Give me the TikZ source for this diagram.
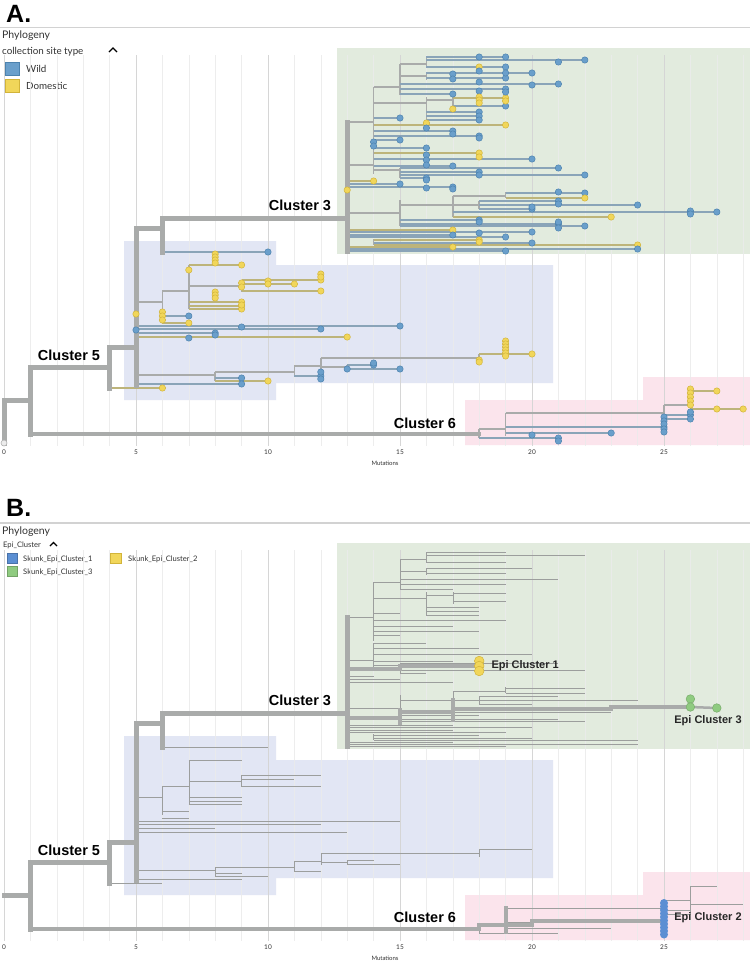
\documentclass[tikz,border=0pt]{standalone}
\usepackage{fontspec}
\setmainfont{Lato}
\newfontfamily\labfont{Liberation Sans}

\definecolor{brgrey}{HTML}{A9ABAA}
\definecolor{thingrey}{HTML}{9C9E9D}
\definecolor{lineb}{HTML}{8AA4B8}
\definecolor{liney}{HTML}{BDB47A}
\definecolor{dotb}{HTML}{6A9FCB}
\definecolor{edgeb}{HTML}{4C82AE}
\definecolor{doty}{HTML}{F1D65A}
\definecolor{edgey}{HTML}{D2B43A}
\definecolor{epiblue}{HTML}{5B8FD3}
\definecolor{epigreen}{HTML}{8FCB80}
\definecolor{greenbox}{HTML}{E2EBDE}
\definecolor{bluebox}{HTML}{E2E6F4}
\definecolor{pinkbox}{HTML}{FBE4EC}
\definecolor{gridminor}{HTML}{EBEBEB}
\definecolor{gridmajor}{HTML}{D2D2D2}
\definecolor{uitext}{HTML}{333333}

% tree drawn in mutations (x) and pixel rows (y)
\def\vertsA{15/64/95, 16/57/67, 16/73/80, 14/87/146, 16/97/120, 17/97/109,
  14/148/174, 15/168/178, 15/200/226, 17/196/217, 19/192/198, 18/201/209,
  14/239/245, 6/291/320, 7/265/309, 9/280/292, 8/372/381, 11/366/376,
  12/358/370, 18/354/362, 13/365/369, 18/429/438, 19/413/436, 25/405/432,
  26/391/420}
\def\innerA{13/14/122, 14/15/87, 15/16/64, 15/16/76, 14/16/103, 16/17/100,
  13/14/165, 14/15/170, 13/15/213, 15/17/205, 17/19/196, 17/18/205,
  5/6/302, 6/7/291, 7/9/286, 5/8/375, 8/11/372, 11/12/366, 12/18/358,
  12/13/367, 18/19/429, 19/25/413, 25/26/405}
\def\tipsA{16/19/57/b, 16/22/60/b, 16/19/67/b, 16/20/73/b, 16/19/78/b,
  15/21/84/b, 15/19/89/b, 15/17/94/b, 17/19/98/y, 17/19/106/b, 16/18/112/b,
  16/18/116/b, 16/18/120/b, 14/15/118/b, 14/19/125/y, 14/17/131/b,
  14/18/136/b, 14/15/140/b, 14/16/148/b, 14/18/153/y, 14/20/159/b,
  14/17/166/b, 15/21/168/b, 15/18/172/b, 15/22/175/b, 15/16/178/b,
  13/14/181/y, 13/15/184/b, 13/17/187/b, 19/22/193/b, 19/22/198/y,
  18/21/201/b, 18/24/205/b, 18/20/209/b, 17/27/212/b, 17/23/217/y,
  15/18/220/b, 15/21/224/b, 15/22/226/b, 13/17/230/y, 13/20/232/b,
  13/17/235/b, 13/19/237/b, 14/18/240/y, 14/20/243/b, 14/24/245/y,
  13/17/247/y, 13/24/249/b, 13/19/251/b,
  6/10/252/b, 7/9/265/y, 9/12/280/y, 9/11/284/y, 9/12/291/y, 7/9/302/y,
  7/9/306/y, 7/9/309/y, 6/7/316/b, 6/7/323/y, 5/15/326/b, 5/12/329/b,
  5/8/333/b, 5/13/337/y, 18/20/354/y, 13/14/365/b, 13/15/369/b,
  11/12/376/b, 8/9/378/b, 8/10/381/y, 5/9/384/b, 4/6/388/y,
  26/27/391/y, 26/28/409/y, 25/26/415/b, 25/26/419/b, 19/25/427/b,
  19/23/433/b, 18/21/438/b}
\def\extraA{18/57/b, 21/62/b, 18/67/y, 17/74/b, 19/73/b, 18/71/b, 17/79/b,
  18/82/b, 20/85/b, 18/91/b, 19/92/b, 18/97/y, 18/100/y, 18/103/y,
  19/101/y, 17/109/y, 16/123/y, 16/128/b, 17/134/b, 18/138/b, 14/142/b,
  14/146/b, 18/157/y, 16/155/b, 16/160/b, 16/165/b, 18/175/b, 16/180/b,
  17/189/b, 16/188/b, 13/190/y, 21/192/b, 21/204/b, 20/207/b, 26/211/b,
  26/214/b, 18/222/b, 21/222/b, 21/228/b, 18/233/b, 18/242/y,
  8/254/y, 8/257/y, 8/260/y, 8/263/y, 7/270/y, 12/274/y, 12/277/y,
  10/281/y, 10/284/y, 9/283/y, 9/287/y, 8/292/y, 8/295/y, 8/298/y,
  9/305/y, 6/312/y, 6/316/y, 6/320/y, 5/314/y, 9/327/b, 5/330/b, 8/335/b,
  7/338/b, 19/341/y, 19/344/y, 19/347/y, 19/350/y, 19/353/y, 19/356/y,
  18/360/y, 18/362/y, 14/363/b, 13/369/b, 12/372/b, 12/379/b,
  26/389/y, 26/393/y, 26/397/y, 26/401/y, 26/405/y, 27/409/y, 26/412/b,
  25/417/b, 25/421/b, 25/424/b, 25/429/b, 25/432/b, 20/435/b, 21/441/b}

\begin{document}
\begin{tikzpicture}[x=1pt, y=-1pt,
    backbone/.style={brgrey, line width=5pt, line cap=rect},
    treeline/.style={brgrey, line width=1.6pt},
    thinline/.style={thingrey, line width=0.5pt},
    epipath/.style={brgrey, line width=4.5pt, line cap=rect},
    clusterlab/.style={font=\labfont\bfseries\fontsize{14.5}{16}\selectfont},
    epilab/.style={font=\labfont\bfseries\fontsize{11}{13}\selectfont, text=black!85},
    panellab/.style={font=\labfont\bfseries\fontsize{25}{28}\selectfont, anchor=base west, inner sep=0pt},
    uilab/.style={font=\fontsize{10.5}{12}\selectfont, text=uitext, anchor=base west, inner sep=0pt},
    legtext/.style={font=\fontsize{9.8}{11}\selectfont, text=uitext, anchor=base west, inner sep=0pt},
    smalltext/.style={font=\fontsize{7.6}{9}\selectfont, text=uitext, anchor=base west, inner sep=0pt},
    ticklab/.style={font=\fontsize{6.5}{7}\selectfont, text=uitext, inner sep=0pt},
  ]
\useasboundingbox (0,0) rectangle (750,962);
\fill[white] (0,0) rectangle (750,962);

%%% panel A header
\node[panellab] (pa) at (6,22) {A.};
\draw[gridmajor, line width=1.2pt] (0,27.5) -- (750,27.5);
\node[uilab] (phyloa) at (2,38) {Phylogeny};
\node[legtext] (sitetype) at (2,54) {collection site type};
\draw[black, line width=1.3pt] (109,52) -- (113,48) -- (117,52);
\filldraw[fill=dotb, draw=edgeb] (5,62) rectangle (19,75);
\node[legtext] (wild) at (26,72) {Wild};
\filldraw[fill=doty, draw=edgey] (5,79) rectangle (19,92);
\node[legtext] (domestic) at (26,89) {Domestic};

%%% panel B header
\node[panellab] (pb) at (6,516) {B.};
\draw[gridmajor, line width=1.2pt] (0,523) -- (750,523);
\node[uilab] (phylob) at (2,534) {Phylogeny};
\node[smalltext] (epicl) at (3,547) {Epi\_Cluster};
\draw[black, line width=1.1pt] (50,546) -- (53.5,542.5) -- (57,546);
\filldraw[fill=epiblue, draw=epiblue!80!black] (7,553) rectangle (17,563);
\node[smalltext] (sk1) at (23,561) {Skunk\_Epi\_Cluster\_1};
\filldraw[fill=doty, draw=edgey] (110,553) rectangle (121,563);
\node[smalltext] (sk2) at (128,561) {Skunk\_Epi\_Cluster\_2};
\filldraw[fill=epigreen, draw=epigreen!80!black] (7,566) rectangle (17,576);
\node[smalltext] (sk3) at (23,574) {Skunk\_Epi\_Cluster\_3};

%%% both panels share one layout, B sits 495px lower
\foreach \dy/\gtop in {0/55, 495/550} {
\begin{scope}[shift={(0,\dy)}]
  % cluster boxes
  \fill[greenbox] (337,48) rectangle (750,254);
  \fill[bluebox] (124,241) -- (276,241) -- (276,265) -- (553,265) -- (553,383)
    -- (276,383) -- (276,400) -- (124,400) -- cycle;
  \fill[pinkbox] (465,400) -- (643,400) -- (643,377) -- (750,377) -- (750,445)
    -- (465,445) -- cycle;
  \begin{scope}[x=26.4pt, xshift=4pt]
    \foreach \m in {0,...,28} {\draw[gridminor, opacity=0.85, line width=0.6pt] (\m,\gtop-\dy) -- (\m,446);}
    \foreach \m in {0,5,...,25} {\draw[gridmajor, opacity=0.85, line width=0.9pt] (\m,\gtop-\dy) -- (\m,446);}
    \foreach \m in {0,5,...,25} {\node[ticklab] at (\m,452) {\m};}
  \end{scope}
  \node[ticklab, font=\fontsize{6}{7}\selectfont] at (385,463) {Mutations};
\end{scope}
}

%%% panel A tree
\begin{scope}[x=26.4pt, xshift=4pt]
  \foreach \va/\vb/\vc in \vertsA {\draw[treeline] (\va,\vb) -- (\va,\vc);}
  \foreach \ha/\hb/\hy in \innerA {\draw[treeline] (\ha,\hy) -- (\hb,\hy);}
  \foreach \pa/\pb/\py/\cc in \tipsA {\draw[line width=1.6pt, color=line\cc] (\pa,\py) -- (\pb,\py);}
  % backbone
  \draw[backbone] (0,400) -- (0,443);
  \draw[backbone] (0,400) -- (1,400) (1,367) -- (1,434) (1,367) -- (4,367)
    (4,347) -- (4,388) (4,347) -- (5,347) (5,228) -- (5,385) (5,228) -- (6,228)
    (6,218) -- (6,252) (6,218) -- (13,218) (13,122) -- (13,251);
  \draw[backbone, line width=4pt] (1,434) -- (18,434);
  \filldraw[fill=gray!15, draw=gray!60, line width=0.6pt] (0,443) circle (3pt);
  \foreach \pa/\pb/\py/\cc in \tipsA {\filldraw[fill=dot\cc, draw=edge\cc, line width=0.5pt] (\pb,\py) circle (3.2pt);}
  \foreach \pa/\py/\cc in \extraA {\filldraw[fill=dot\cc, draw=edge\cc, line width=0.5pt] (\pa,\py) circle (3.2pt);}
\end{scope}
\node[clusterlab] (c3a) at (300,205) {Cluster 3};
\node[clusterlab] (c5a) at (69,355) {Cluster 5};
\node[clusterlab] (c6a) at (425,423) {Cluster 6};

%%% panel B tree
\begin{scope}[x=26.4pt, xshift=4pt, shift={(0,495)}]
  \foreach \va/\vb/\vc in \vertsA {\draw[thinline] (\va,\vb) -- (\va,\vc);}
  \foreach \ha/\hb/\hy in \innerA {\draw[thinline] (\ha,\hy) -- (\hb,\hy);}
  \foreach \pa/\pb/\py/\cc in \tipsA {\draw[thinline] (\pa,\py) -- (\pb,\py);}
  % backbone
  \draw[backbone] (0,400) -- (1,400) (1,367) -- (1,434) (1,367) -- (4,367)
    (4,347) -- (4,388) (4,347) -- (5,347) (5,228) -- (5,385) (5,228) -- (6,228)
    (6,218) -- (6,252) (6,218) -- (13,218) (13,122) -- (13,251);
  \draw[backbone, line width=4pt] (1,434) -- (18,434);
  % epi cluster 1
  \draw[epipath] (13,174) -- (15,174) -- (15,171) -- (18,171);
  % epi cluster 3
  \draw[epipath] (13,223) -- (15,223) (15,215) -- (15,228) (15,217) -- (17,217)
    (17,205) -- (17,225) (17,214) -- (23,214);
  \draw[epipath, line width=3.5pt] (23,212) -- (26,212);
  \draw[brgrey, line width=2.5pt] (26,212) -- (27,213);
  % epi cluster 2
  \draw[epipath, line width=4pt] (18,434) -- (18,430) -- (20,430) -- (20,426) -- (25,426)
    (19,413) -- (19,437);
  \foreach \py in {408,411.5,...,440} {\fill[epiblue] (25,\py) circle (4pt);}
  \foreach \py in {166,171,176} {\filldraw[fill=doty, draw=edgey, line width=0.5pt] (18,\py) circle (4.8pt);}
  \foreach \pa/\py in {26/204, 26/212, 27/213} {\filldraw[fill=epigreen, draw=epigreen!85!black, line width=0.5pt] (\pa,\py) circle (4.3pt);}
\end{scope}
\node[clusterlab] (c3b) at (300,700) {Cluster 3};
\node[clusterlab] (c5b) at (69,850) {Cluster 5};
\node[clusterlab] (c6b) at (425,917) {Cluster 6};
\node[epilab, anchor=west] (epi1) at (488,666) {Epi Cluster 1};
\node[epilab] (epi3) at (708,721) {Epi Cluster 3};
\node[epilab] (epi2) at (708,918) {Epi Cluster 2};
\end{tikzpicture}
\end{document}
